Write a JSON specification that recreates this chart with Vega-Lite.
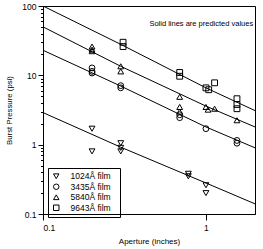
{
  "$schema": "https://vega.github.io/schema/vega-lite/v6.json",
  "width": 212,
  "height": 208,
  "autosize": {"type": "none"},
  "padding": {"left": 43, "top": 6, "right": 8, "bottom": 35},
  "background": "white",
  "config": {
    "view": {"stroke": "black", "strokeWidth": 1},
    "font": "Liberation Sans",
    "axis": {"domainColor": "black", "tickColor": "black", "labelColor": "black", "titleColor": "black", "labelFont": "Liberation Sans", "titleFont": "Liberation Sans", "titleFontWeight": "normal", "grid": false}
  },
  "datasets": {
    "pts": [
      {"film": "1024Å film", "aperture": 0.2, "pressure": 1.7},
      {"film": "1024Å film", "aperture": 0.2, "pressure": 0.8},
      {"film": "1024Å film", "aperture": 0.3, "pressure": 1.05},
      {"film": "1024Å film", "aperture": 0.3, "pressure": 0.9},
      {"film": "1024Å film", "aperture": 0.3, "pressure": 0.8},
      {"film": "1024Å film", "aperture": 0.78, "pressure": 0.38},
      {"film": "1024Å film", "aperture": 0.78, "pressure": 0.35},
      {"film": "1024Å film", "aperture": 1.0, "pressure": 0.26},
      {"film": "1024Å film", "aperture": 1.0, "pressure": 0.2},
      {"film": "3435Å film", "aperture": 0.2, "pressure": 12.8},
      {"film": "3435Å film", "aperture": 0.2, "pressure": 11.4},
      {"film": "3435Å film", "aperture": 0.2, "pressure": 10.8},
      {"film": "3435Å film", "aperture": 0.3, "pressure": 7.1},
      {"film": "3435Å film", "aperture": 0.3, "pressure": 6.6},
      {"film": "3435Å film", "aperture": 0.69, "pressure": 2.7},
      {"film": "3435Å film", "aperture": 0.69, "pressure": 2.45},
      {"film": "3435Å film", "aperture": 1.0, "pressure": 1.7},
      {"film": "3435Å film", "aperture": 1.55, "pressure": 1.15},
      {"film": "3435Å film", "aperture": 1.55, "pressure": 1.05},
      {"film": "5840Å film", "aperture": 0.2, "pressure": 26},
      {"film": "5840Å film", "aperture": 0.2, "pressure": 23.5},
      {"film": "5840Å film", "aperture": 0.2, "pressure": 22.3},
      {"film": "5840Å film", "aperture": 0.3, "pressure": 13.5},
      {"film": "5840Å film", "aperture": 0.3, "pressure": 11.4},
      {"film": "5840Å film", "aperture": 0.69, "pressure": 4.9},
      {"film": "5840Å film", "aperture": 0.69, "pressure": 3.5},
      {"film": "5840Å film", "aperture": 0.69, "pressure": 3.0},
      {"film": "5840Å film", "aperture": 1.0, "pressure": 3.5},
      {"film": "5840Å film", "aperture": 1.03, "pressure": 3.2},
      {"film": "5840Å film", "aperture": 1.13, "pressure": 3.3},
      {"film": "5840Å film", "aperture": 1.55, "pressure": 2.25},
      {"film": "9643Å film", "aperture": 0.31, "pressure": 30},
      {"film": "9643Å film", "aperture": 0.31, "pressure": 26},
      {"film": "9643Å film", "aperture": 0.69, "pressure": 11},
      {"film": "9643Å film", "aperture": 0.69, "pressure": 9.7},
      {"film": "9643Å film", "aperture": 1.0, "pressure": 6.6},
      {"film": "9643Å film", "aperture": 1.04, "pressure": 6.2},
      {"film": "9643Å film", "aperture": 1.13, "pressure": 7.8},
      {"film": "9643Å film", "aperture": 1.55, "pressure": 4.6},
      {"film": "9643Å film", "aperture": 1.55, "pressure": 3.8},
      {"film": "9643Å film", "aperture": 1.55, "pressure": 3.3}
    ],
    "lines": [
      {"film": "9643", "aperture": 0.1, "pressure": 100},
      {"film": "9643", "aperture": 0.3, "pressure": 28},
      {"film": "9643", "aperture": 1.0, "pressure": 6.6},
      {"film": "9643", "aperture": 2.0, "pressure": 3.1},
      {"film": "5840", "aperture": 0.1, "pressure": 50},
      {"film": "5840", "aperture": 0.3, "pressure": 13.5},
      {"film": "5840", "aperture": 1.0, "pressure": 3.6},
      {"film": "5840", "aperture": 2.0, "pressure": 1.8},
      {"film": "3435", "aperture": 0.1, "pressure": 23},
      {"film": "3435", "aperture": 0.3, "pressure": 7.0},
      {"film": "3435", "aperture": 1.0, "pressure": 1.8},
      {"film": "3435", "aperture": 2.0, "pressure": 0.9},
      {"film": "1024", "aperture": 0.1, "pressure": 2.9},
      {"film": "1024", "aperture": 0.3, "pressure": 0.92},
      {"film": "1024", "aperture": 1.0, "pressure": 0.28},
      {"film": "1024", "aperture": 2.0, "pressure": 0.14}
    ],
    "note": [
      {"aperture": 1.95, "pressure": 55, "text": "Solid lines are predicted values"}
    ]
  },
  "layer": [
    {
      "data": {"name": "lines"},
      "mark": {"type": "line", "color": "black", "strokeWidth": 1, "clip": true},
      "encoding": {
        "x": {"field": "aperture", "type": "quantitative", "scale": {"type": "log", "domain": [0.1, 2], "nice": false},
          "axis": {"title": "Aperture  (inches)", "values": [0.1, 1], "format": "~g", "labelFontSize": 8.5, "titleFontSize": 8, "tickSize": 6, "labelPadding": 3, "titlePadding": 6}},
        "y": {"field": "pressure", "type": "quantitative", "scale": {"type": "log", "domain": [0.1, 100], "nice": false},
          "axis": {"title": "Burst Pressure (psi)", "titleFontSize": 7.8, "labelFontSize": 8.5, "labelOverlap": false,
            "values": [0.1,0.2,0.3,0.4,0.5,0.6,0.7,0.8,0.9,1,2,3,4,5,6,7,8,9,10,20,30,40,50,60,70,80,90,100],
            "labelExpr": "abs(log(datum.value)/LN10 - round(log(datum.value)/LN10)) < 0.001 ? format(datum.value, '~g') : ''",
            "tickSize": {"condition": {"test": "abs(log(datum.value)/LN10 - round(log(datum.value)/LN10)) < 0.001", "value": 5}, "value": 2.5},
            "labelPadding": 2, "titlePadding": 8}},
        "detail": {"field": "film", "type": "nominal"}
      }
    },
    {
      "data": {"name": "pts"},
      "mark": {"type": "point", "filled": false, "strokeWidth": 1, "size": 34, "color": "black", "opacity": 1},
      "encoding": {
        "x": {"field": "aperture", "type": "quantitative"},
        "y": {"field": "pressure", "type": "quantitative"},
        "shape": {"field": "film", "type": "nominal",
          "scale": {"domain": ["1024Å film", "3435Å film", "5840Å film", "9643Å film"], "range": ["triangle-down", "circle", "triangle-up", "square"]},
          "legend": {"orient": "none", "legendX": 5, "legendY": 162, "strokeColor": "black", "padding": 4,
            "title": "                  ", "titleOrient": "right", "titleFontSize": 8,
            "labelFontSize": 8.5, "labelFont": "Liberation Sans", "labelColor": "black", "labelOffset": 10, "rowPadding": 0.5,
            "symbolSize": 30, "symbolStrokeColor": "black", "symbolStrokeWidth": 1, "symbolFillColor": "transparent"}}
      }
    },
    {
      "data": {"name": "note"},
      "mark": {"type": "text", "align": "right", "baseline": "middle", "fontSize": 7.5, "font": "Liberation Sans", "color": "black"},
      "encoding": {
        "x": {"field": "aperture", "type": "quantitative"},
        "y": {"field": "pressure", "type": "quantitative"},
        "text": {"field": "text"}
      }
    }
  ]
}
